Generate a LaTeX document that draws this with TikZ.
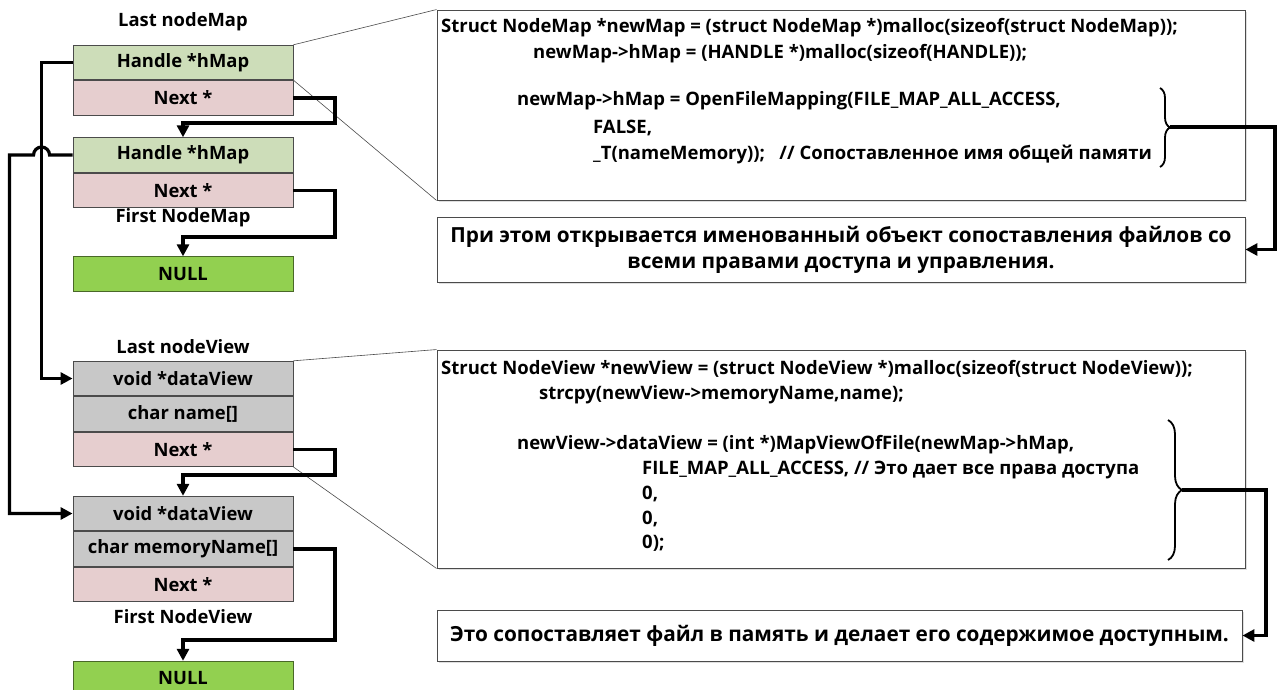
\documentclass[tikz,border=0pt]{standalone}
\usepackage{fontspec}
\setmainfont{Open Sans}
\usetikzlibrary{positioning,arrows.meta,decorations.pathreplacing,shadows}
\definecolor{handleGreen}{RGB}{205,221,185}
\definecolor{nextPink}{RGB}{230,206,207}
\definecolor{fieldGray}{RGB}{200,200,200}
\definecolor{nullGreen}{RGB}{146,208,80}
\definecolor{frameGray}{RGB}{75,75,75}
\newcommand{\codefont}{\bfseries\fontsize{18.5}{22}\selectfont}
\newcommand{\notefont}{\bfseries\fontsize{20.8}{26}\selectfont}

\begin{document}
\begin{tikzpicture}[x=1pt,y=-1pt,
  field/.style={draw=frameGray,line width=0.9pt,minimum width=220pt,minimum height=34.5pt,inner sep=0pt,font=\bfseries\fontsize{18.4}{22}\selectfont},
  handleField/.style={field,fill=handleGreen},
  nextField/.style={field,fill=nextPink},
  dataField/.style={field,fill=fieldGray},
  nullField/.style={field,fill=nullGreen,draw=nullGreen!50!black},
  caption/.style={font=\bfseries\fontsize{18.4}{22}\selectfont,inner sep=0pt},
  codeBox/.style={draw=frameGray,line width=0.9pt,fill=white,inner sep=0pt,drop shadow={opacity=0.25,shadow xshift=1.5pt,shadow yshift=-1.5pt}},
  codeLine/.style={anchor=west,inner sep=0pt,font=\codefont},
  link/.style={line width=3.2pt,-{Triangle[length=12pt,width=12pt]}},
  zoomLine/.style={draw=frameGray,line width=0.6pt},
  codeBrace/.style={decorate,decoration={brace,amplitude=#1},line width=1.8pt}
]
\clip (0,0) rectangle (1285,689);
\fill[white] (0,0) rectangle (1285,689);
%% NodeMap list
\node[caption] (mapLastLabel) at (183,22) {Last nodeMap};
\node[handleField] (mapLastHandle) at (183,62.5) {Handle *hMap};
\node[nextField,below=0pt of mapLastHandle] (mapLastNext) {Next *};
\node[handleField] (mapFirstHandle) at (183,155) {Handle *hMap};
\node[nextField,below=0pt of mapFirstHandle] (mapFirstNext) {Next *};
\node[caption] (mapFirstLabel) at (183,218) {First NodeMap};
\node[nullField] (mapNull) at (183,274) {NULL};
%% NodeView list
\node[caption] (viewLastLabel) at (183,347) {Last nodeView};
\node[dataField] (viewLastData) at (183,378.5) {void *dataView};
\node[dataField,below=0pt of viewLastData] (viewLastName) {char name[]};
\node[nextField,below=0pt of viewLastName] (viewLastNext) {Next *};
\node[dataField] (viewFirstData) at (183,513.5) {void *dataView};
\node[dataField,below=0pt of viewFirstData] (viewFirstName) {char memoryName[]};
\node[nextField,below=0pt of viewFirstName] (viewFirstNext) {Next *};
\node[caption] (viewFirstLabel) at (183,617) {First NodeView};
\node[nullField] (viewNull) at (183,678.5) {NULL};
%% code boxes
\node[codeBox,minimum width=808pt,minimum height=190pt] (mapCode) at (841,105) {};
\node[codeBox,minimum width=808pt,minimum height=65pt,font=\notefont,align=center] (mapNote) at (841,249.5)
  {При этом открывается именованный объект сопоставления файлов со\\всеми правами доступа и управления.};
\node[codeBox,minimum width=808pt,minimum height=218pt] (viewCode) at (841,459) {};
\node[codeBox,minimum width=805pt,minimum height=51pt,font=\notefont] (viewNote) at (839.5,635.5)
  {Это сопоставляет файл в память и делает его содержимое доступным.};
%the code lines
\node[codeLine] (mapLineA) at (441,28) {Struct NodeMap *newMap = (struct NodeMap *)malloc(sizeof(struct NodeMap));};
\node[codeLine] (mapLineB) at (533,54) {newMap->hMap = (HANDLE *)malloc(sizeof(HANDLE));};
\node[codeLine] (mapLineC) at (517,101) {newMap->hMap = OpenFileMapping(FILE\_MAP\_ALL\_ACCESS,};
\node[codeLine] (mapLineD) at (593,128) {FALSE,};
\node[codeLine] (mapLineE) at (593,154) {\_T(nameMemory));\ \ \ // Сопоставленное имя общей памяти};
\node[codeLine] (viewLineA) at (441,369) {Struct NodeView *newView = (struct NodeView *)malloc(sizeof(struct NodeView));};
\node[codeLine] (viewLineB) at (539,395) {strcpy(newView->memoryName,name);};
\node[codeLine] (viewLineC) at (517,445) {newView->dataView = (int *)MapViewOfFile(newMap->hMap,};
\node[codeLine] (viewLineD) at (642,470) {FILE\_MAP\_ALL\_ACCESS, // Это дает все права доступа};
\node[codeLine] (viewLineE) at (642,494) {0,};
\node[codeLine] (viewLineF) at (642,519) {0,};
\node[codeLine] (viewLineG) at (642,543) {0);};
%braces
\draw[codeBrace=10pt] (1160,88) -- (1160,167);
\coordinate (mapBraceTip) at (1170,127);
\draw[codeBrace=14pt] (1168,420) -- (1168,560);
\coordinate (viewBraceTip) at (1182,490);
%zoom lines
\draw[zoomLine] (mapLastHandle.north east) -- (mapCode.north west);
\draw[zoomLine] (mapLastHandle.south east) -- (mapCode.south west);
\draw[zoomLine] (viewLastData.north east) -- (viewCode.north west);
\draw[zoomLine] (viewLastNext.south east) -- (viewCode.south west);
%drawings of links
\draw[link] (mapLastNext.east) -| (335,123) -| (mapFirstHandle.north);
\draw[link] (mapFirstNext.east) -| (335,237) -| (mapNull.north);
\draw[link] (viewLastNext.east) -| (335,475) -| (viewFirstData.north);
\draw[link] (viewFirstName.east) -| (335,640) -| (viewNull.north);
\draw[link] (mapLastHandle.west) -- ++(-31,0) |- (viewLastData.west);
\draw[link] (mapFirstHandle.west) -- ++(-23,0) arc[start angle=0,end angle=180,radius=8pt] -- ++(-24,0) |- (viewFirstData.west);
\draw[link] (mapBraceTip) -- (1275,127) |- (mapNote.east);
\draw[link] (viewBraceTip) -- (1266,490) |- (viewNote.east);
\end{tikzpicture}
\end{document}
